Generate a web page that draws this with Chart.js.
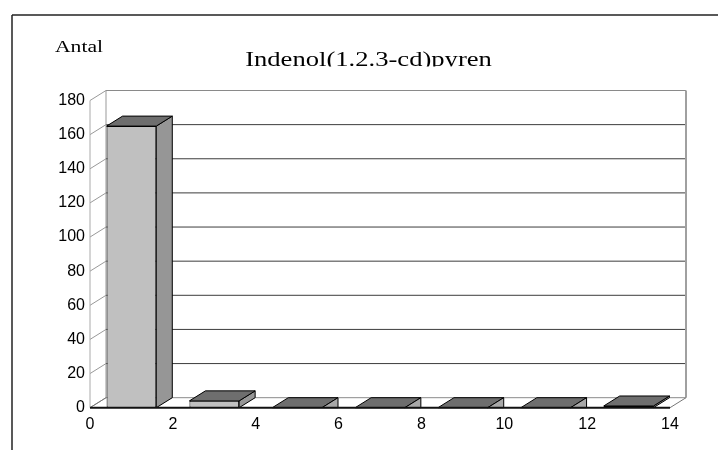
<!DOCTYPE html>
<html>
<head>
<meta charset="utf-8">
<script src="https://cdn.jsdelivr.net/npm/chart.js@4"></script>
<style>
  html, body { margin: 0; padding: 0; background: #fff; }
  canvas { display: block; }
</style>
</head>
<body>
<canvas id="c" width="718" height="450"></canvas>
<script>
// Histogram counts, one bar per class of width 2
const binCenters = [1, 3, 5, 7, 9, 11, 13];
const counts = [165, 4, 0, 0, 0, 0, 1];
const xTicks = [0, 2, 4, 6, 8, 10, 12, 14];
const yTicks = [0, 20, 40, 60, 80, 100, 120, 140, 160, 180];
const chartTitle = 'Indenol(1.2.3-cd)pyren';
const yAxisTitle = 'Antal';

// Depth of the pseudo-3D box (pixels to the right and upwards)
const DX = 16, DY = 10;

function line(ctx, x1, y1, x2, y2, color, w) {
  ctx.beginPath();
  ctx.moveTo(x1, y1);
  ctx.lineTo(x2, y2);
  ctx.strokeStyle = color;
  ctx.lineWidth = w || 1;
  ctx.stroke();
}

function poly(ctx, pts, fill, stroke) {
  ctx.beginPath();
  ctx.moveTo(pts[0][0], pts[0][1]);
  for (let i = 1; i < pts.length; i++) ctx.lineTo(pts[i][0], pts[i][1]);
  ctx.closePath();
  ctx.fillStyle = fill;
  ctx.fill();
  ctx.strokeStyle = stroke;
  ctx.lineWidth = 1;
  ctx.stroke();
}

// Background, frame, titles
const frame = {
  id: 'frame',
  beforeDraw(chart) {
    const ctx = chart.ctx;
    ctx.save();
    ctx.fillStyle = '#fff';
    ctx.fillRect(0, 0, chart.width, chart.height);
    line(ctx, 12, 15, chart.width, 15, '#222', 1.5);
    line(ctx, 12, 15, 12, chart.height, '#222', 1.5);

    ctx.fillStyle = '#000';
    ctx.textBaseline = 'alphabetic';

    // Axis caption, wide serif face
    ctx.save();
    ctx.translate(55, 52);
    ctx.scale(1.35, 1);
    ctx.font = '16px "Liberation Serif", "Times New Roman", serif';
    ctx.textAlign = 'left';
    ctx.fillText(yAxisTitle, 0, 0);
    ctx.restore();

    // Chart title, cut off by its text box at the baseline
    ctx.save();
    ctx.beginPath();
    ctx.rect(0, 0, chart.width, 66.5);
    ctx.clip();
    ctx.translate(368.5, 66);
    ctx.scale(1.33, 1);
    ctx.font = '20px "Liberation Serif", "Times New Roman", serif';
    ctx.textAlign = 'center';
    ctx.fillText(chartTitle, 0, 0);
    ctx.restore();

    ctx.restore();
  }
};

// Walls, floor and gridlines of the 3D box
const walls = {
  id: 'walls',
  beforeDatasetsDraw(chart) {
    const ctx = chart.ctx;
    const xs = chart.scales.x, ys = chart.scales.y;
    const L = xs.getPixelForValue(xs.min), R = xs.getPixelForValue(xs.max);
    const B = ys.getPixelForValue(ys.min), T = ys.getPixelForValue(ys.max);
    ctx.save();
    // back wall gridlines
    yTicks.forEach(v => {
      const py = ys.getPixelForValue(v) - DY;
      let col = '#3c3c3c';
      if (v === ys.max) col = '#8a8a8a';
      if (v === ys.min) col = '#8a8a8a';
      line(ctx, L + DX, py, R + DX, py, col, 1);
    });
    // side wall gridlines
    yTicks.forEach(v => {
      const py = ys.getPixelForValue(v);
      line(ctx, L, py, L + DX, py - DY, '#999', 1);
    });
    // wall edges
    line(ctx, L, T, L, B, '#aaa', 1);
    line(ctx, L + DX, T - DY, L + DX, B - DY, '#999', 1);
    line(ctx, R + DX, T - DY, R + DX, B - DY, '#a0a0a0', 2);
    // floor edges
    line(ctx, R, B, R + DX, B - DY, '#777', 1);
    ctx.restore();
  },
  afterDatasetsDraw(chart) {
    const ctx = chart.ctx;
    const xs = chart.scales.x, ys = chart.scales.y;
    const L = xs.getPixelForValue(xs.min), R = xs.getPixelForValue(xs.max);
    const B = ys.getPixelForValue(ys.min);
    ctx.save();
    const meta = chart.getDatasetMeta(0);
    meta.data.forEach(bar => {
      const p = bar.getProps(['x', 'y', 'base', 'width'], true);
      const l = p.x - p.width / 2, r = p.x + p.width / 2;
      const top = p.y, base = p.base;
      if (base - top >= 1) {
        poly(ctx, [[r, top], [r + DX, top - DY], [r + DX, base - DY], [r, base]], '#969696', '#000');
      }
      poly(ctx, [[l, top], [r, top], [r + DX, top - DY], [l + DX, top - DY]], '#6e6e6e', '#000');
      if (base - top < 1) {
        poly(ctx, [[r, base], [r + DX, base - DY], [r + DX, base]], '#a8a8a8', '#000');
      }
    });
    line(ctx, L, B, L + DX, B - DY, '#777', 1);
    line(ctx, L, B, R, B, '#111', 2);
    ctx.restore();
  }
};

new Chart(document.getElementById('c'), {
  type: 'bar',
  data: {
    datasets: [{
      data: binCenters.map((x, i) => ({ x: x, y: counts[i] })),
      backgroundColor: '#c0c0c0',
      borderColor: '#000',
      borderWidth: 1,
      borderSkipped: false,
      barPercentage: 0.6,
      categoryPercentage: 1.0
    }]
  },
  options: {
    responsive: false,
    animation: false,
    devicePixelRatio: 1,
    events: [],
    layout: { padding: { left: 0, right: 48, top: 100.5, bottom: 0 } },
    plugins: { legend: { display: false }, tooltip: { enabled: false }, title: { display: false } },
    scales: {
      x: {
        type: 'linear',
        min: 0,
        max: 14,
        offset: false,
        afterBuildTicks: s => { s.ticks = xTicks.map(v => ({ value: v })); },
        afterFit: s => { s.height = 42.3; },
        grid: { display: false, drawTicks: false, offset: false },
        border: { display: false },
        ticks: {
          padding: 7,
          color: '#000',
          maxRotation: 0,
          autoSkip: false,
          font: { family: '"Liberation Sans", Arial, sans-serif', size: 16 }
        }
      },
      y: {
        type: 'linear',
        min: 0,
        max: 180,
        afterBuildTicks: s => { s.ticks = yTicks.map(v => ({ value: v })); },
        afterFit: s => { s.width = 90; },
        grid: { display: false, drawTicks: false },
        border: { display: false },
        ticks: {
          padding: 5,
          color: '#000',
          autoSkip: false,
          font: { family: '"Liberation Sans", Arial, sans-serif', size: 16 }
        }
      }
    }
  },
  plugins: [frame, walls]
});
</script>
</body>
</html>
